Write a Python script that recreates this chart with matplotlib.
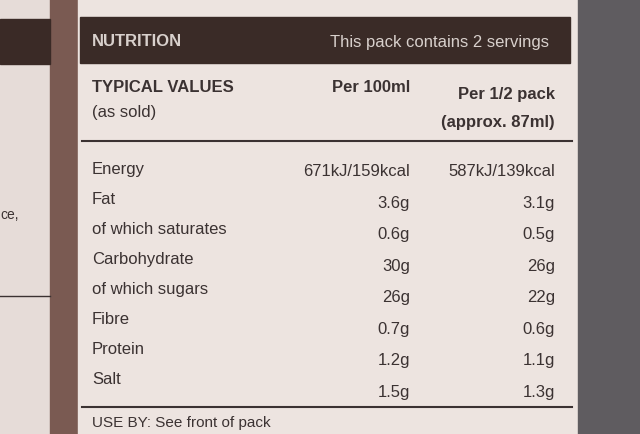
import matplotlib.pyplot as plt
from matplotlib.patches import Rectangle

nutrients = ["Energy", "Fat", "of which saturates", "Carbohydrate",
             "of which sugars", "Fibre", "Protein", "Salt"]
per_100ml = ["671kJ/159kcal", "3.6g", "0.6g", "30g", "26g", "0.7g", "1.2g", "1.5g"]
per_half_pack = ["587kJ/139kcal", "3.1g", "0.5g", "26g", "22g", "0.6g", "1.1g", "1.3g"]

fig = plt.figure(figsize=(6.4, 4.35), dpi=100)
ax = fig.add_axes([0, 0, 1, 1])
ax.set_xlim(0, 640)
ax.set_ylim(435, 0)
ax.axis("off")
fig.patch.set_facecolor("#6e6a6c")

ink = "#3b3232"
font = "Liberation Sans"

# backgrounds: left label edge, main label, right shadow
ax.add_patch(Rectangle((0, 0), 50, 435, color="#e6dcd8"))
ax.add_patch(Rectangle((50, 0), 28, 435, color="#7a5a52"))
ax.add_patch(Rectangle((78, 0), 500, 435, color="#ede4e0"))
ax.add_patch(Rectangle((578, 0), 62, 435, color="#5f5c60"))
ax.add_patch(Rectangle((0, 20), 50, 45, color="#3a2a26"))
ax.plot([0, 50], [297, 297], color=ink, lw=1)
ax.text(0, 215, "ce,", fontsize=10, color=ink, family=font, va="center")

# header band
ax.add_patch(Rectangle((80, 18), 490, 46, color="#3a2b27"))
ax.text(92, 42, "NUTRITION", fontsize=12, weight="bold", color="#d8d0cc",
        family=font, va="center")
ax.text(330, 42, "This pack contains 2 servings", fontsize=12, color="#d8d0cc",
        family=font, va="center")

ax.text(92, 88, "TYPICAL VALUES", fontsize=12, weight="bold", color=ink, family=font, va="center")
ax.text(92, 112, "(as sold)", fontsize=12, color=ink, family=font, va="center")
ax.text(410, 88, "Per 100ml", fontsize=12, weight="bold", color=ink, family=font,
        va="center", ha="right")
ax.text(555, 95, "Per 1/2 pack", fontsize=12, weight="bold", color=ink, family=font,
        va="center", ha="right")
ax.text(555, 122, "(approx. 87ml)", fontsize=12, weight="bold", color=ink, family=font,
        va="center", ha="right")
ax.plot([82, 572], [142, 142], color=ink, lw=1.5)

for i, (name, a, b) in enumerate(zip(nutrients, per_100ml, per_half_pack)):
    ax.text(92, 170 + i * 30, name, fontsize=12, color=ink, family=font, va="center")
    ax.text(410, 172 + i * 31.5, a, fontsize=12, color=ink, family=font, va="center", ha="right")
    ax.text(555, 172 + i * 31.5, b, fontsize=12, color=ink, family=font, va="center", ha="right")

ax.plot([82, 572], [408, 408], color=ink, lw=1.5)
ax.text(92, 423, "USE BY: See front of pack", fontsize=11, color=ink, family=font, va="center")

fig.savefig("out.png", dpi=100)
